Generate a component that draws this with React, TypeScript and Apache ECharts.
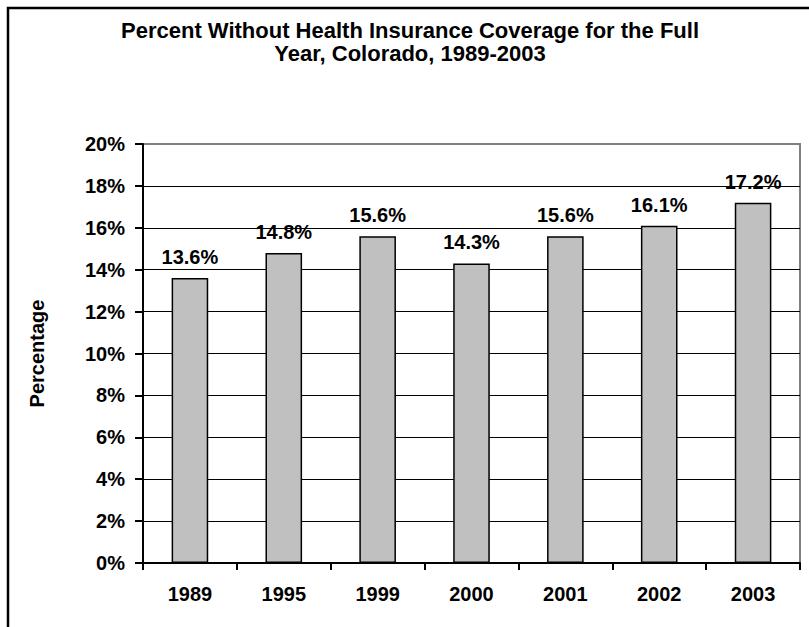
import React, { useEffect, useRef } from "react";
import * as echarts from "echarts";

const titleText = "Percent Without Health Insurance Coverage for the Full\nYear, Colorado, 1989-2003";
const categories = ["1989", "1995", "1999", "2000", "2001", "2002", "2003"];
const values = [13.6, 14.8, 15.6, 14.3, 15.6, 16.1, 17.2];
const yAxisName = "Percentage";
const yMin = 0;
const yMax = 20;
const yInterval = 2;

const FONT = "'Liberation Sans', Arial, sans-serif";

export default function App() {
  const ref = useRef<HTMLDivElement>(null);
  useEffect(() => {
    if (!ref.current) return;
    const chart = echarts.init(ref.current, undefined, { renderer: "svg" });
    chart.setOption({
      animation: false,
      backgroundColor: "#ffffff",
      title: {
        text: titleText,
        left: 405,
        textAlign: "center",
        top: 14,
        textStyle: {
          fontFamily: FONT,
          fontWeight: "bold",
          fontSize: 22,
          lineHeight: 23,
          color: "#000",
        },
      },
      graphic: [
        {
          type: "polyline",
          shape: { points: [[8, 640], [8, 8], [820, 8]] },
          style: { stroke: "#000", lineWidth: 2.5, fill: "none" },
          z: 100,
        },
      ],
      grid: {
        left: 143,
        top: 144,
        right: 9,
        bottom: 64,
        show: true,
        borderColor: "#808080",
        borderWidth: 2,
        backgroundColor: "transparent",
      },
      xAxis: {
        type: "category",
        data: categories,
        axisLine: { show: true, lineStyle: { color: "#000", width: 2 } },
        axisTick: { show: true, length: 7, lineStyle: { color: "#000", width: 2 } },
        axisLabel: {
          fontFamily: FONT,
          fontWeight: "bold",
          fontSize: 20,
          color: "#000",
          margin: 21,
        },
      },
      yAxis: {
        type: "value",
        min: yMin,
        max: yMax,
        interval: yInterval,
        name: yAxisName,
        nameLocation: "middle",
        nameGap: 96,
        nameRotate: 90,
        nameTextStyle: {
          fontFamily: FONT,
          fontWeight: "bold",
          fontSize: 20,
          color: "#000",
        },
        axisLine: { show: true, lineStyle: { color: "#000", width: 2 } },
        axisTick: { show: true, length: 8, lineStyle: { color: "#000", width: 2 } },
        axisLabel: {
          formatter: "{value}%",
          fontFamily: FONT,
          fontWeight: "bold",
          fontSize: 20,
          color: "#000",
          margin: 18,
        },
        splitLine: {
          show: true,
          showMaxLine: false,
          showMinLine: false,
          lineStyle: { color: "#000", width: 1 },
        },
      },
      series: [
        {
          type: "bar",
          data: values,
          barWidth: "39%",
          itemStyle: { color: "#c0c0c0", borderColor: "#000", borderWidth: 1.5 },
          label: {
            show: true,
            position: "top",
            distance: 11,
            formatter: (p: any) => `${p.value.toFixed(1)}%`,
            fontFamily: FONT,
            fontWeight: "bold",
            fontSize: 20,
            color: "#000",
          },
        },
      ],
    });
    return () => chart.dispose();
  }, []);
  return (
    <div
      ref={ref}
      style={{ position: "fixed", left: 0, top: 0, width: 809, height: 627 }}
    />
  );
}
